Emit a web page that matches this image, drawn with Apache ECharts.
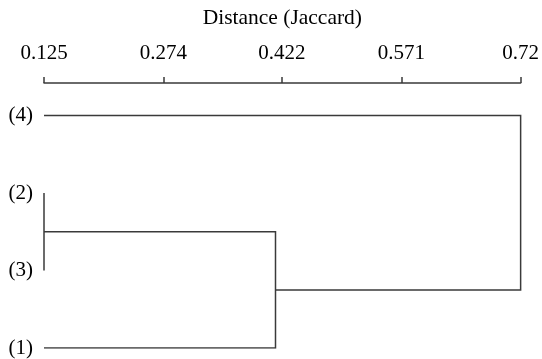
<!DOCTYPE html>
<html>
<head>
<meta charset="utf-8">
<script src="https://cdn.jsdelivr.net/npm/echarts@6/dist/echarts.min.js"></script>
<style>html,body{margin:0;padding:0;background:#fff}#c{width:542px;height:359px}</style>
</head>
<body>
<div id="c"></div>
<script>
// Leaves in display order (top to bottom)
var leaves = ["(4)", "(2)", "(3)", "(1)"];
// Merges: [left child, right child, height]; children: leaf index (number) or "m<k>" for merge k
var mergeLeft = [1, "m0", 0];
var mergeRight = [2, 3, "m1"];
var mergeHeight = [0.125, 0.414, 0.72];
// Axis ticks
var tickValues = [0.125, 0.274, 0.422, 0.571, 0.72];
var axisMin = 0.125, axisMax = 0.72;
var leafIdx = leaves.map(function (_, i) { return i; });

function node(ref, nodes) {
  if (typeof ref === "number") return { x: axisMin, y: ref };
  return nodes[parseInt(ref.slice(1), 10)];
}
var nodes = [];
var segs = [];
for (var i = 0; i < mergeHeight.length; i++) {
  var a = node(mergeLeft[i], nodes), b = node(mergeRight[i], nodes), h = mergeHeight[i];
  segs.push({ coords: [[a.x, a.y], [h, a.y], [h, b.y], [b.x, b.y]] });
  nodes.push({ x: h, y: (a.y + b.y) / 2 });
}

var font = "'Liberation Serif','Times New Roman',serif";
var chart = echarts.init(document.getElementById('c'), null, { renderer: 'canvas' });
chart.setOption({
  animation: false,
  grid: { left: 44, right: 21, top: 83, bottom: 11 },
  xAxis: {
    type: 'value', position: 'top',
    min: axisMin, max: axisMax,
    name: 'Distance (Jaccard)', nameLocation: 'middle', nameGap: 54,
    nameTextStyle: { fontFamily: font, fontSize: 21.5, color: '#000' },
    axisLine: { show: true, onZero: false, lineStyle: { color: '#3a3a3a', width: 1.5 } },
    axisTick: { show: true, length: 6, customValues: tickValues, lineStyle: { color: '#3a3a3a', width: 1.5 } },
    axisLabel: { customValues: tickValues, margin: 19, fontFamily: font, fontSize: 21, color: '#000',
      formatter: function (v) { return String(v); } },
    splitLine: { show: false }
  },
  yAxis: {
    type: 'value', inverse: true, min: -0.42, max: leaves.length - 1,
    axisLine: { show: false }, axisTick: { show: false }, splitLine: { show: false },
    axisLabel: { customValues: leafIdx, margin: 11, fontFamily: font, fontSize: 21, color: '#000',
      formatter: function (v) { return leaves[Math.round(v)] || ''; } }
  },
  series: [{
    type: 'lines', coordinateSystem: 'cartesian2d', polyline: true, silent: true,
    lineStyle: { color: '#3a3a3a', width: 1.5, opacity: 1 },
    data: segs
  }]
});
</script>
</body>
</html>
